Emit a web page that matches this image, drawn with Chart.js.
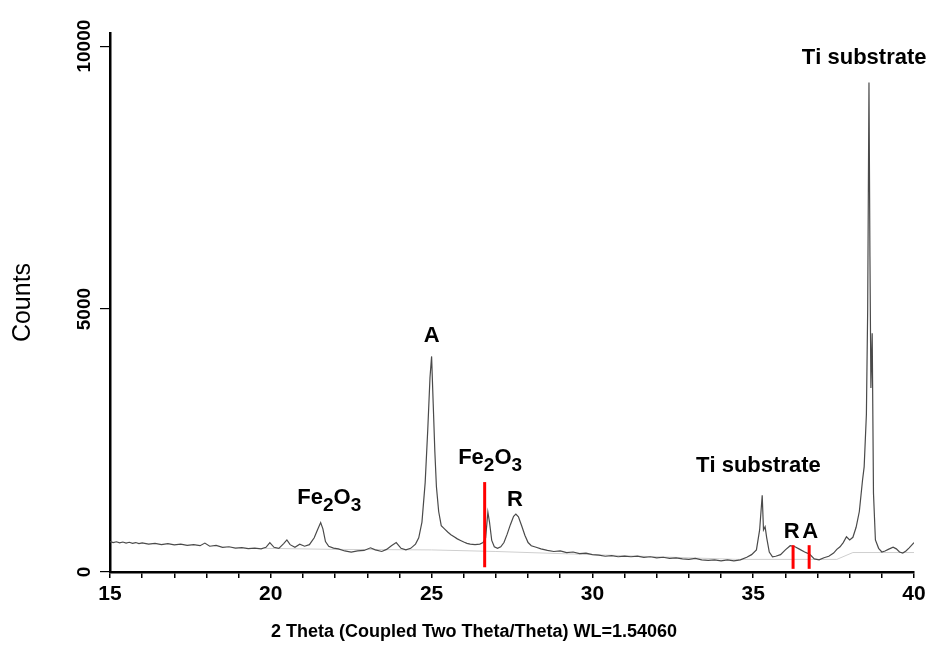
<!DOCTYPE html>
<html>
<head>
<meta charset="utf-8">
<script src="https://cdn.jsdelivr.net/npm/chart.js@4.4.1/dist/chart.umd.min.js"></script>
<style>
    html, body { margin: 0; padding: 0; background: #fff; }
    canvas { display: block; }
</style>
</head>
<body>
<canvas id="xrd" width="931" height="650"></canvas>
<script>
// measured pattern (2 theta, counts)
const twoTheta = [
    15.0, 15.1, 15.2, 15.3, 15.4, 15.5, 15.6, 15.7, 15.8, 15.9, 16.0, 16.2, 16.4, 16.6, 16.8, 17.0,
    17.2, 17.4, 17.6, 17.8, 17.95, 18.1, 18.3, 18.5, 18.7, 18.9, 19.1, 19.3, 19.5, 19.7, 19.85, 19.97,
    20.1, 20.25, 20.4, 20.5, 20.6, 20.75, 20.9, 21.05, 21.2, 21.35, 21.45, 21.55, 21.62, 21.7, 21.8, 21.95,
    22.1, 22.3, 22.5, 22.7, 22.9, 23.1, 23.25, 23.45, 23.6, 23.75, 23.9, 24.05, 24.2, 24.35, 24.5, 24.6,
    24.7, 24.8, 24.88, 24.95, 25.0, 25.05, 25.1, 25.15, 25.22, 25.3, 25.4, 25.5, 25.6, 25.7, 25.8, 25.9,
    26.0, 26.1, 26.2, 26.35, 26.5, 26.6, 26.68, 26.75, 26.8, 26.87, 26.95, 27.05, 27.15, 27.25, 27.35, 27.45,
    27.55, 27.62, 27.7, 27.8, 27.9, 28.0, 28.1, 28.25, 28.4, 28.6, 28.8, 29.0, 29.2, 29.4, 29.6, 29.8,
    30.0, 30.2, 30.4, 30.6, 30.8, 31.0, 31.2, 31.4, 31.6, 31.8, 32.0, 32.2, 32.4, 32.6, 32.8, 33.0,
    33.2, 33.4, 33.6, 33.8, 34.0, 34.2, 34.4, 34.6, 34.8, 34.95, 35.1, 35.2, 35.28, 35.32, 35.37, 35.42,
    35.5, 35.6, 35.7, 35.85, 36.0, 36.15, 36.3, 36.45, 36.6, 36.75, 36.9, 37.05, 37.2, 37.35, 37.5, 37.6,
    37.7, 37.8, 37.9, 38.0, 38.1, 38.2, 38.3, 38.4, 38.45, 38.52, 38.56, 38.6, 38.63, 38.66, 38.7, 38.74,
    38.8, 38.9, 39.0, 39.1, 39.2, 39.35, 39.45, 39.55, 39.65, 39.75, 39.85, 40.0
];
const counts = [
    580, 560, 575, 555, 570, 550, 565, 545, 560, 540, 555, 530, 545, 520, 540, 515,
    530, 505, 520, 500, 550, 490, 505, 470, 480, 455, 465, 445, 455, 440, 470, 560,
    470, 450, 540, 610, 520, 470, 530, 490, 520, 650, 800, 940, 820, 580, 490, 455,
    440, 400, 380, 400, 410, 460, 420, 390, 430, 500, 560, 450, 420, 450, 530, 650,
    950, 1700, 2700, 3700, 4100, 3200, 2300, 1620, 1150, 880, 820, 760, 710, 670, 630, 600,
    570, 545, 530, 520, 530, 560, 650, 1140, 950, 600, 480, 450, 480, 560, 720, 900,
    1060, 1100, 1050, 880, 700, 560, 500, 470, 440, 410, 390, 400, 370, 380, 350, 360,
    330, 320, 300, 310, 290, 300, 290, 300, 280, 290, 270, 280, 260, 270, 250, 240,
    260, 230, 220, 230, 210, 230, 210, 230, 280, 330, 420, 800, 1460, 800, 860, 650,
    380, 290, 300, 330, 420, 500, 480, 430, 380, 340, 250, 230, 270, 300, 360, 430,
    480, 560, 670, 610, 660, 850, 1150, 1750, 2000, 3000, 5000, 9310, 6000, 3500, 4540, 1500,
    610, 450, 380, 400, 430, 470, 440, 380, 360, 400, 460, 560
];

// fitted background
const bgTheta = [19.8, 22.0, 25.0, 27.0, 30.0, 34.5, 37.6, 38.1, 40.0];
const bgCounts = [450, 430, 420, 390, 330, 240, 240, 370, 370];

// red reference markers
const markerTheta = [26.65, 36.24, 36.74];
const markerTop = [1710, 510, 510];
const markerBottom = [90, 60, 60];

// peak labels
const peakLabels = ['Fe2O3', 'A', 'Fe2O3', 'R', 'Ti substrate', 'R', 'A', 'Ti substrate'];
const peakTheta = [21.82, 25.0, 26.82, 27.59, 35.16, 36.2, 36.77, 38.45];
const peakCounts = [1416, 4487, 2177, 1369, 2025, 760, 760, 9771];

const yTickValues = [0, 5000, 10000];
const xTitle = '2 Theta (Coupled Two Theta/Theta) WL=1.54060';

const FONT = '"Liberation Sans", Arial, sans-serif';

function pairs(xs, ys) {
    return xs.map((x, i) => ({ x: x, y: ys[i] }));
}

let datasets = [
    {
        data: pairs(twoTheta, counts),
        borderColor: '#4a4a4a',
        borderWidth: 1.2,
        pointRadius: 0,
        order: 1
    },
    {
        data: pairs(bgTheta, bgCounts),
        borderColor: '#cfcfcf',
        borderWidth: 1,
        pointRadius: 0,
        order: 2
    }
];

for (let i = 0; i < markerTheta.length; i++) {
    datasets.push({
        data: [{ x: markerTheta[i], y: markerBottom[i] }, { x: markerTheta[i], y: markerTop[i] }],
        borderColor: '#ff0000',
        borderWidth: 3,
        pointRadius: 0,
        order: 0
    });
}

function drawFormula(ctx, text, cx, cy) {
    const big = 'bold 22px ' + FONT;
    const small = 'bold 19px ' + FONT;
    let width = 0;
    for (let ch of text) {
        ctx.font = /[0-9]/.test(ch) ? small : big;
        width += ctx.measureText(ch).width;
    }
    let x = cx - width / 2;
    ctx.textAlign = 'left';
    ctx.textBaseline = 'middle';
    for (let ch of text) {
        let sub = /[0-9]/.test(ch);
        ctx.font = sub ? small : big;
        ctx.fillText(ch, x, sub ? cy + 8 : cy);
        x += ctx.measureText(ch).width;
    }
}

const labelsPlugin = {
    id: 'labels',
    afterDraw(chart) {
        const ctx = chart.ctx;
        const xs = chart.scales.x;
        const ys = chart.scales.y;
        ctx.save();
        ctx.fillStyle = '#000';

        for (let i = 0; i < peakLabels.length; i++) {
            drawFormula(ctx, peakLabels[i], xs.getPixelForValue(peakTheta[i]), ys.getPixelForValue(peakCounts[i]));
        }

        // y tick labels, rotated
        ctx.font = 'bold 19px ' + FONT;
        ctx.textAlign = 'center';
        ctx.textBaseline = 'middle';
        for (let v of yTickValues) {
            ctx.save();
            ctx.translate(85, ys.getPixelForValue(v));
            ctx.rotate(-Math.PI / 2);
            ctx.fillText(String(v), 0, 0);
            ctx.restore();
        }

        // x axis title
        ctx.font = 'bold 18px ' + FONT;
        ctx.fillText(xTitle, 474, 632);
        ctx.restore();
    }
};

new Chart(document.getElementById('xrd'), {
    type: 'line',
    data: { datasets: datasets },
    options: {
        responsive: false,
        animation: false,
        layout: { padding: { top: 33, right: 17, left: 0, bottom: 0 } },
        plugins: {
            legend: { display: false },
            tooltip: { enabled: false }
        },
        scales: {
            x: {
                type: 'linear',
                min: 15,
                max: 40,
                ticks: {
                    stepSize: 1,
                    autoSkip: false,
                    maxRotation: 0,
                    padding: 4,
                    color: '#000',
                    font: { family: FONT, size: 21, weight: 'bold' },
                    callback: (v) => (v % 5 === 0 ? String(v) : '')
                },
                grid: { drawOnChartArea: false, color: '#000', tickLength: 6, lineWidth: 1.5 },
                border: { color: '#000', width: 2.5 },
                afterFit: (s) => { s.height = 78; }
            },
            y: {
                min: 0,
                max: 10250,
                afterBuildTicks: (s) => { s.ticks = yTickValues.map((v) => ({ value: v })); },
                ticks: { display: false },
                grid: { drawOnChartArea: false, color: '#000', tickLength: 10, lineWidth: 1.2 },
                border: { color: '#000', width: 2.5 },
                title: {
                    display: true,
                    text: 'Counts',
                    color: '#000',
                    font: { family: FONT, size: 25, weight: 'normal' },
                    padding: { top: 8, bottom: 0 }
                },
                afterFit: (s) => { s.width = 110; }
            }
        }
    },
    plugins: [labelsPlugin]
});
</script>
</body>
</html>
